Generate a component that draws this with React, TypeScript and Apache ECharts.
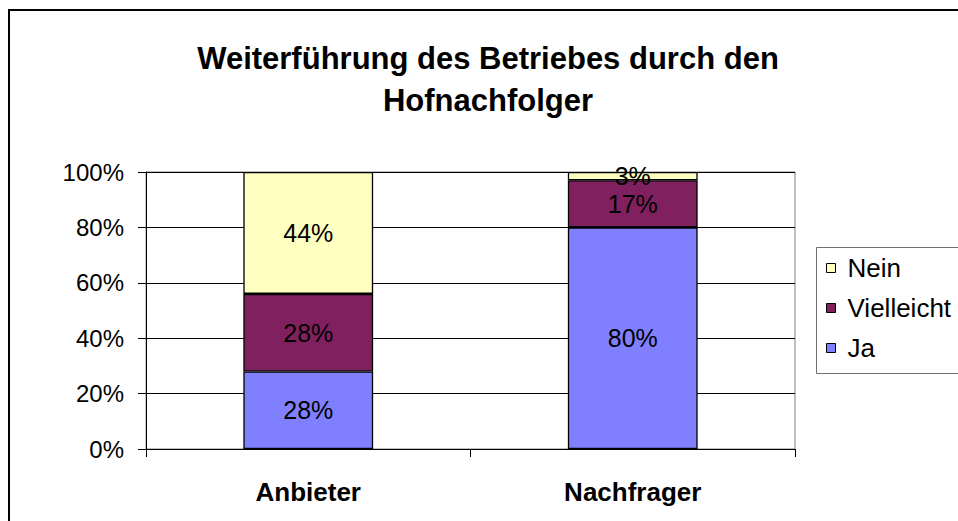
import React, { useEffect, useRef } from "react";
import * as echarts from "echarts";

const categories = ["Anbieter", "Nachfrager"];
const seriesNames = ["Ja", "Vielleicht", "Nein"];
const jaValues = [28, 80];
const vielleichtValues = [28, 17];
const neinValues = [44, 3];
const seriesColors = ["#8080FF", "#80205F", "#FFFFC0"];
const titleText = "Weiterführung des Betriebes durch den\nHofnachfolger";

const FONT = "'Liberation Sans', Arial, sans-serif";

export default function App() {
  const ref = useRef<HTMLDivElement>(null);
  useEffect(() => {
    if (!ref.current) return;
    const chart = echarts.init(ref.current, null, { renderer: "svg" });
    const values = [jaValues, vielleichtValues, neinValues];
    const series = seriesNames.map((name, i) => ({
      name,
      type: "bar",
      stack: "total",
      barWidth: "40%",
      data: values[i],
      itemStyle: { color: seriesColors[i], borderColor: "#000", borderWidth: 1.3 },
      label: {
        show: true,
        position: "inside",
        formatter: "{c}%",
        color: "#000",
        fontSize: 25,
        fontFamily: FONT,
      },
      emphasis: { disabled: true },
    }));
    chart.setOption({
      animation: false,
      backgroundColor: "#fff",
      textStyle: { fontFamily: FONT },
      title: {
        text: titleText,
        left: 483,
        top: 32,
        textAlign: "center",
        textStyle: {
          fontFamily: FONT,
          fontSize: 31,
          fontWeight: "bold",
          color: "#000",
          lineHeight: 42,
        },
      },
      graphic: [
        {
          type: "rect",
          shape: { x: 9, y: 10, width: 1100, height: 1100 },
          style: { fill: "none", stroke: "#000", lineWidth: 2 },
          silent: true,
        },
        {
          type: "rect",
          shape: { x: 816.5, y: 247.5, width: 300, height: 126 },
          style: { fill: "none", stroke: "#707070", lineWidth: 1 },
          silent: true,
        },
      ],
      legend: {
        orient: "vertical",
        left: 816,
        top: 247,
        data: ["Nein", "Vielleicht", "Ja"],
        icon: "rect",
        itemWidth: 9,
        itemHeight: 9,
        itemGap: 14,
        padding: [8, 0, 12, 10],
        borderWidth: 0,
        selectedMode: false,
        itemStyle: { borderColor: "#000", borderWidth: 1 },
        textStyle: {
          fontFamily: FONT,
          fontSize: 26,
          color: "#000",
          padding: [0, 0, 0, 7],
        },
      },
      grid: {
        left: 146,
        top: 172,
        width: 649,
        height: 277,
        show: true,
        borderColor: "#808080",
        borderWidth: 1,
        backgroundColor: "#fff",
      },
      xAxis: {
        type: "category",
        data: categories,
        axisLine: { lineStyle: { color: "#000", width: 1 } },
        axisTick: { show: true, length: 8, lineStyle: { color: "#000" } },
        axisLabel: {
          margin: 30,
          fontFamily: FONT,
          fontSize: 26,
          fontWeight: "bold",
          color: "#000",
        },
      },
      yAxis: {
        type: "value",
        min: 0,
        max: 100,
        interval: 20,
        axisLine: { show: true, lineStyle: { color: "#000", width: 1 } },
        axisTick: { show: true, length: 8, lineStyle: { color: "#000" } },
        splitLine: { show: true, lineStyle: { color: "#000", width: 1 } },
        axisLabel: {
          formatter: "{value}%",
          margin: 22,
          fontFamily: FONT,
          fontSize: 24,
          color: "#000",
        },
      },
      series,
    });
    return () => chart.dispose();
  }, []);
  return (
    <div
      ref={ref}
      style={{ position: "fixed", left: 0, top: 0, width: 958, height: 521 }}
    />
  );
}
